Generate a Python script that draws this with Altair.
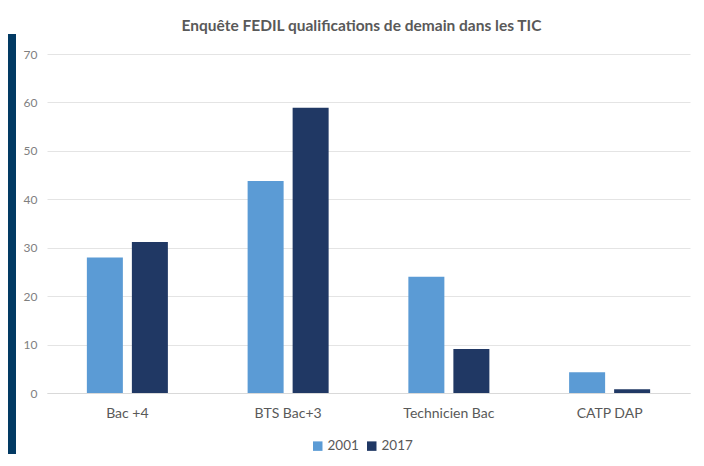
import altair as alt
import pandas as pd

categories = ["Bac +4", "BTS Bac+3", "Technicien Bac", "CATP  DAP"]
years = ["2001", "2017"]
values_2001 = [28.0, 43.8, 24.0, 4.3]
values_2017 = [31.2, 58.9, 9.1, 0.8]

rows = []
for c, a, b in zip(categories, values_2001, values_2017):
    rows.append({"cat": c, "year": "2001", "value": a})
    rows.append({"cat": c, "year": "2017", "value": b})
df = pd.DataFrame(rows)

FONT = "Lato"

bars = alt.Chart(df).mark_bar().encode(
    x=alt.X("cat:N", sort=categories,
            scale=alt.Scale(paddingInner=0.496, paddingOuter=0.248),
            axis=alt.Axis(title=None, labelAngle=0, ticks=False, tickSize=0,
                          labelPadding=13, labelFontSize=14, labelColor="#595959",
                          labelFont=FONT, domainColor="#d9d9d9", labelLimit=200)),
    xOffset=alt.XOffset("year:N", sort=years,
                        scale=alt.Scale(paddingInner=0.2, paddingOuter=0)),
    y=alt.Y("value:Q", scale=alt.Scale(domain=[0, 70]),
            axis=alt.Axis(title=None, values=[0, 10, 20, 30, 40, 50, 60, 70],
                          ticks=False, tickSize=0, domain=False, labelPadding=10,
                          labelFontSize=12, labelColor="#7f7f7f", labelFont=FONT,
                          gridColor="#e4e4e4")),
    color=alt.Color("year:N", sort=years,
                    scale=alt.Scale(domain=years, range=["#5b9bd5", "#203864"]),
                    legend=alt.Legend(title=None, orient="none", direction="horizontal",
                                      legendX=264, legendY=385,
                                      symbolType="square", symbolSize=90,
                                      labelFontSize=13.5, labelColor="#595959",
                                      labelFont=FONT, columnPadding=6, labelOffset=3,
                                      symbolStrokeWidth=0)),
)

strip = alt.Chart(pd.DataFrame({"k": [0]})).mark_rect(color="#023a63").encode(
    x=alt.value(-39), x2=alt.value(-31), y=alt.value(-20), y2=alt.value(400)
)

chart = alt.layer(strip, bars).properties(
    width=643, height=339,
    title=alt.TitleParams("Enquête FEDIL qualifications de demain dans les TIC",
                          fontSize=15.5, fontWeight="bold", color="#595959", font=FONT,
                          anchor="middle", frame="group", offset=0, dx=-7),
    padding={"left": 0, "top": 10, "right": 5, "bottom": 0},
).configure_view(stroke=None)

chart.save("out.html", embed_options={"renderer": "svg", "actions": False})
